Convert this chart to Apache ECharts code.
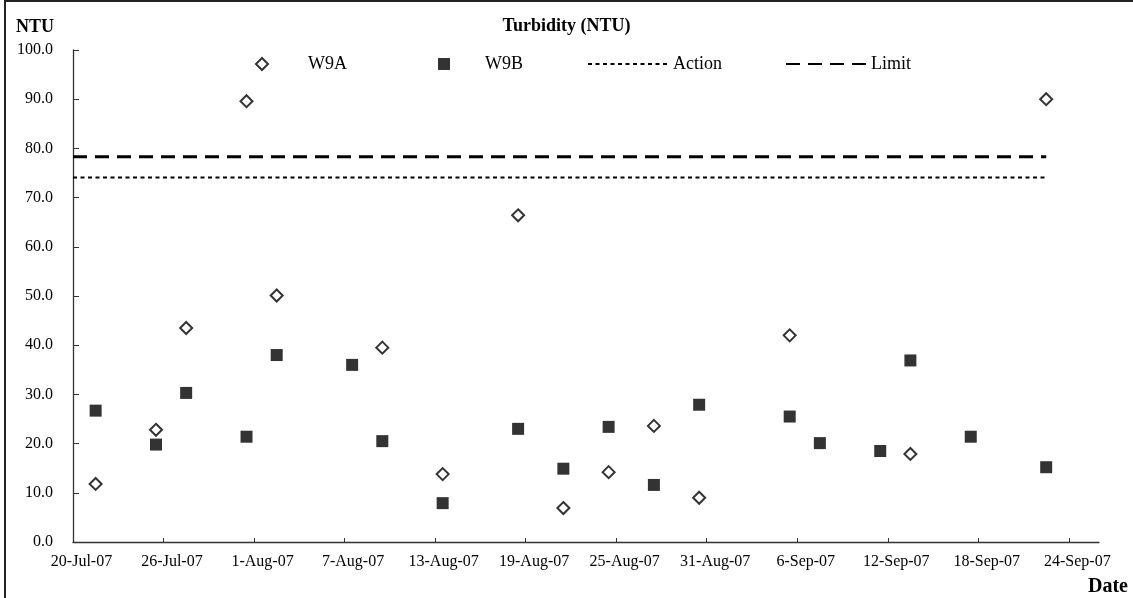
<!DOCTYPE html>
<html>
<head>
<meta charset="utf-8">
<script src="https://cdn.jsdelivr.net/npm/echarts@6/dist/echarts.min.js"></script>
<style>
    html, body { margin: 0; padding: 0; background: #fff; }
    #chart { position: absolute; left: 0; top: 0; width: 1133px; height: 598px; }
    #frame {
        position: absolute; left: 4px; top: 0; width: 1140px; height: 610px;
        border-left: 2px solid #222; border-top: 2px solid #222;
        pointer-events: none;
    }
</style>
</head>
<body>
<div id="chart"></div>
<div id="frame"></div>
<script>
// sampling dates and turbidity readings (NTU)
const startDate = '2007-07-20';
const w9aDates = ['2007-07-21', '2007-07-25', '2007-07-27', '2007-07-31', '2007-08-02', '2007-08-09',
    '2007-08-13', '2007-08-18', '2007-08-21', '2007-08-24', '2007-08-27', '2007-08-30',
    '2007-09-05', '2007-09-13', '2007-09-22'];
const w9aValues = [11.8, 22.8, 43.5, 89.6, 50.1, 39.5, 13.8, 66.4, 6.9, 14.2, 23.6, 9.0, 42.0, 17.9, 90.0];
const w9bDates = ['2007-07-21', '2007-07-25', '2007-07-27', '2007-07-31', '2007-08-02', '2007-08-07',
    '2007-08-09', '2007-08-13', '2007-08-18', '2007-08-21', '2007-08-24', '2007-08-27',
    '2007-08-30', '2007-09-05', '2007-09-07', '2007-09-11', '2007-09-13', '2007-09-17', '2007-09-22'];
const w9bValues = [26.7, 19.8, 30.3, 21.4, 38.0, 36.0, 20.5, 7.9, 23.0, 14.9, 23.4, 11.6, 27.9, 25.5,
    20.1, 18.5, 36.9, 21.4, 15.2];
const actionLevel = 74.1;
const limitLevel = 78.3;
const xTickLabels = ['20-Jul-07', '26-Jul-07', '1-Aug-07', '7-Aug-07', '13-Aug-07', '19-Aug-07',
    '25-Aug-07', '31-Aug-07', '6-Sep-07', '12-Sep-07', '18-Sep-07', '24-Sep-07'];

const DAY = 86400000;
const t0 = Date.parse(startDate);
// excel puts the point in the middle of its day
function toDay(d) {
    return (Date.parse(d) - t0) / DAY + 0.5;
}
const xTicks = xTickLabels.map(function (l, i) { return i * 6; });
const lastDay = toDay(w9bDates[w9bDates.length - 1]);
const font = 'Liberation Serif, Times New Roman, serif';
const legendText = { fontFamily: font, fontSize: 18, color: '#000' };
const noDot = { color: 'transparent', borderWidth: 0, opacity: 0 };

const chart = echarts.init(document.getElementById('chart'));
const option = {
    animation: false,
    textStyle: { fontFamily: font, color: '#000' },
    title: [
        {
            text: 'Turbidity (NTU)', left: 'center', top: 12,
            textStyle: { fontFamily: font, fontSize: 18, fontWeight: 'bold', color: '#000' }
        },
        {
            text: 'NTU', left: 11, top: 13,
            textStyle: { fontFamily: font, fontSize: 18, fontWeight: 'bold', color: '#000' }
        },
        {
            text: 'Date', right: 0, top: 572,
            textStyle: { fontFamily: font, fontSize: 20, fontWeight: 'bold', color: '#000' }
        }
    ],
    legend: [
        {
            left: 250, top: 50, itemWidth: 12, itemHeight: 12,
            textStyle: Object.assign({ padding: [0, 0, 0, 35] }, legendText),
            data: ['W9A']
        },
        {
            left: 433, top: 50, itemWidth: 12, itemHeight: 12,
            textStyle: Object.assign({ padding: [0, 0, 0, 30] }, legendText),
            data: ['W9B']
        },
        {
            left: 582, top: 50, itemWidth: 80, itemHeight: 12,
            textStyle: legendText,
            data: [{ name: 'Action', itemStyle: noDot }]
        },
        {
            left: 780, top: 50, itemWidth: 80, itemHeight: 12,
            textStyle: legendText,
            data: [{ name: 'Limit', itemStyle: noDot }]
        }
    ],
    grid: { left: 73, right: 34, top: 50, bottom: 56 },
    xAxis: {
        type: 'value', min: 0, max: 68, interval: 6,
        axisLine: { lineStyle: { color: '#333', width: 1.3 } },
        axisTick: { inside: true, length: 4, customValues: xTicks, lineStyle: { color: '#333' } },
        axisLabel: {
            customValues: xTicks, margin: 12, padding: [0, 0, 0, 17],
            fontFamily: font, fontSize: 16, color: '#000',
            formatter: function (v) { return xTickLabels[Math.round(v / 6)]; }
        },
        splitLine: { show: false }
    },
    yAxis: {
        type: 'value', min: 0, max: 100, interval: 10,
        axisLine: { show: true, lineStyle: { color: '#333', width: 1.3 } },
        axisTick: { show: true, inside: true, length: 6, lineStyle: { color: '#333' } },
        axisLabel: {
            margin: 20, fontFamily: font, fontSize: 16, color: '#000',
            formatter: function (v) { return v.toFixed(1); }
        },
        splitLine: { show: false }
    },
    series: [
        {
            name: 'W9A', type: 'scatter', symbol: 'diamond', symbolSize: 12, z: 5,
            itemStyle: { color: '#fff', borderColor: '#000', borderWidth: 2 },
            data: w9aDates.map(function (d, i) { return [toDay(d), w9aValues[i]]; })
        },
        {
            name: 'W9B', type: 'scatter', symbol: 'rect', symbolSize: 12, z: 5,
            itemStyle: { color: '#000' },
            data: w9bDates.map(function (d, i) { return [toDay(d), w9bValues[i]]; })
        },
        {
            name: 'Action', type: 'line', symbol: 'none',
            lineStyle: { color: '#000', width: 2, type: [4, 3.5] },
            itemStyle: { color: '#000' },
            data: [[0, actionLevel], [lastDay, actionLevel]]
        },
        {
            name: 'Limit', type: 'line', symbol: 'none',
            lineStyle: { color: '#000', width: 3, type: [14, 8] },
            itemStyle: { color: '#000' },
            data: [[0, limitLevel], [lastDay, limitLevel]]
        }
    ]
};
chart.setOption(option);
</script>
</body>
</html>
